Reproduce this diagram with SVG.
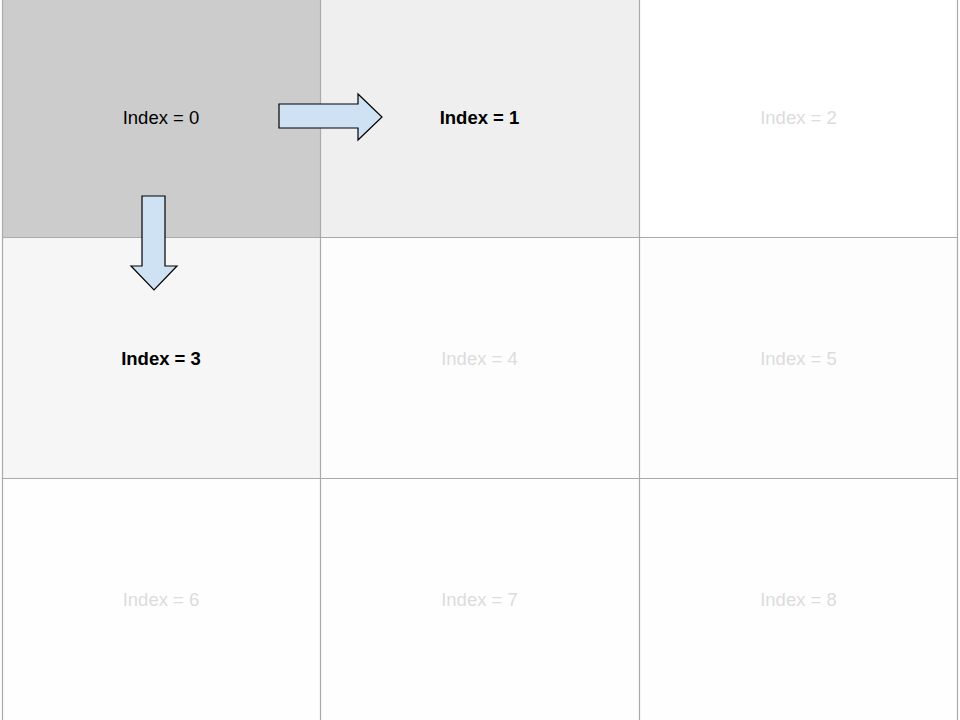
<svg xmlns="http://www.w3.org/2000/svg" width="960" height="720" viewBox="0 0 960 720">
<style>
.t{font-family:"Liberation Sans",Arial,sans-serif;font-size:18.5px;text-anchor:middle;dominant-baseline:central}
.f{fill:#dcdcdc}
.b{fill:#000;font-weight:bold}
.n{fill:#000}
.arr{fill:#cfe2f3;stroke:#000;stroke-width:1.2}
.g{stroke:#aaaaaa;stroke-width:1.2;fill:none}
</style>
<rect x="0" y="0" width="960" height="720" fill="#fefefe"/>
<g id="cell0"><rect x="2" y="0" width="318" height="237" fill="#cccccc"/><text class="t n" x="161" y="117">Index = 0</text></g>
<g id="cell1"><rect x="320" y="0" width="319" height="237" fill="#efefef"/><text class="t b" x="479.5" y="117">Index = 1</text></g>
<g id="cell2"><rect x="639" y="0" width="319" height="237" fill="#ffffff"/><text class="t f" x="798.5" y="117">Index = 2</text></g>
<g id="cell3"><rect x="2" y="237" width="318" height="241" fill="#f6f6f6"/><text class="t b" x="161" y="358">Index = 3</text></g>
<g id="cell4"><rect x="320" y="237" width="319" height="241" fill="#fdfdfd"/><text class="t f" x="479.5" y="358">Index = 4</text></g>
<g id="cell5"><rect x="639" y="237" width="319" height="241" fill="#fdfdfd"/><text class="t f" x="798.5" y="358">Index = 5</text></g>
<g id="cell6"><rect x="2" y="478" width="318" height="242" fill="#fefefe"/><text class="t f" x="161" y="599">Index = 6</text></g>
<g id="cell7"><rect x="320" y="478" width="319" height="242" fill="#fefefe"/><text class="t f" x="479.5" y="599">Index = 7</text></g>
<g id="cell8"><rect x="639" y="478" width="319" height="242" fill="#fefefe"/><text class="t f" x="798.5" y="599">Index = 8</text></g>
<g id="grid">
<path class="g" d="M2.5 0V720M320.5 0V720M639.5 0V720M957.5 0V720M2 237.5H958M2 478.5H958"/>
</g>
<g id="connectors">
<polygon class="arr" points="279,104 358,104 358,94 382,117 358,140 358,128 279,128"/>
<polygon class="arr" points="142,196 165,196 165,266 177,266 154,290 131,266 142,266"/>
</g>
</svg>
